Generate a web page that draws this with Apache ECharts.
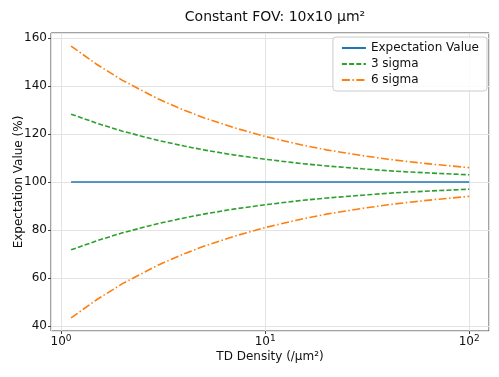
<!DOCTYPE html>
<html>
<head>
<meta charset="utf-8">
<script src="https://cdn.jsdelivr.net/npm/echarts@6/dist/echarts.min.js"></script>
<style>
  html, body { margin: 0; padding: 0; background: #fff; }
  #chart { width: 499px; height: 377px; }
</style>
</head>
<body>
<div id="chart"></div>
<script>
// TD density (/um^2)
const density = [1.12, 1.5, 2, 3, 4, 5, 7, 10, 15, 20, 30, 40, 50, 70, 100];

// Expectation value (%) for each curve
const expectation = [100, 100, 100, 100, 100, 100, 100, 100, 100, 100, 100, 100, 100, 100, 100];
const sigma3Upper = [128.3, 124.5, 121.2, 117.3, 115.0, 113.4, 111.3, 109.5, 107.7, 106.7, 105.5, 104.7, 104.2, 103.6, 103.0];
const sigma3Lower = [71.7, 75.5, 78.8, 82.7, 85.0, 86.6, 88.7, 90.5, 92.3, 93.3, 94.5, 95.3, 95.8, 96.4, 97.0];
const sigma6Upper = [156.7, 149.0, 142.4, 134.6, 130.0, 126.8, 122.7, 119.0, 115.5, 113.4, 111.0, 109.5, 108.5, 107.2, 106.0];
const sigma6Lower = [43.3, 51.0, 57.6, 65.4, 70.0, 73.2, 77.3, 81.0, 84.5, 86.6, 89.0, 90.5, 91.5, 92.8, 94.0];

const pairs = (ys) => density.map((x, i) => [x, ys[i]]);

const font = 'DejaVu Sans';
const ink = '#111';
const chart = echarts.init(document.getElementById('chart'));

const lineSeries = (name, data, color, type) => ({
  name: name,
  type: 'line',
  data: pairs(data),
  symbol: 'none',
  color: color,
  lineStyle: { color: color, width: 1.6, type: type },
  z: 3
});

chart.setOption({
  animation: false,
  textStyle: { fontFamily: font },
  title: {
    text: 'Constant FOV: 10x10 μm²',
    left: 270,
    textAlign: 'center',
    top: 5,
    textStyle: { fontFamily: font, fontSize: 14, fontWeight: 'normal', color: ink }
  },
  grid: {
    left: 51, right: 10, top: 33, bottom: 46,
    outerBoundsMode: 'none',
    containLabel: false,
    show: true, borderColor: '#444', borderWidth: 1
  },
  legend: {
    orient: 'vertical',
    right: 12, top: 37,
    padding: [5, 8, 5, 8],
    itemGap: 4,
    itemWidth: 24, itemHeight: 13,
    itemStyle: { opacity: 0 },
    borderColor: '#ccc', borderWidth: 1, borderRadius: 3,
    backgroundColor: 'rgba(255,255,255,0.85)',
    textStyle: { fontFamily: font, fontSize: 12, color: ink },
    data: ['Expectation Value', '3 sigma', '6 sigma']
  },
  xAxis: {
    type: 'log',
    logBase: 10,
    min: 0.893,
    max: 125,
    name: 'TD Density (/μm²)',
    nameLocation: 'middle',
    nameGap: 20,
    nameMoveOverlap: false,
    nameTextStyle: { fontFamily: font, fontSize: 12, color: ink },
    axisLine: { show: false },
    axisTick: { show: true, length: 3, lineStyle: { color: '#444' } },
    splitLine: { show: true, lineStyle: { color: '#e3e3e3', width: 1 } },
    axisLabel: {
      showMinLabel: false,
      showMaxLabel: false,
      margin: 3,
      color: ink,
      fontSize: 12,
      formatter: (v) => {
        const e = Math.log10(v);
        if (Math.abs(e - Math.round(e)) > 1e-6) return '';
        return '10{s|' + Math.round(e) + '}';
      },
      rich: { s: { fontSize: 9, padding: [0, 0, 7, 0], color: ink, fontFamily: font } }
    }
  },
  yAxis: {
    type: 'value',
    min: 37.85,
    max: 162.15,
    name: 'Expectation Value (%)',
    nameLocation: 'middle',
    nameGap: 26,
    nameMoveOverlap: false,
    nameTextStyle: { fontFamily: font, fontSize: 12, color: ink },
    axisLine: { show: false },
    axisTick: { show: true, length: 3, lineStyle: { color: '#444' } },
    splitLine: { show: true, lineStyle: { color: '#e3e3e3', width: 1 } },
    axisLabel: {
      showMinLabel: false,
      showMaxLabel: false,
      margin: 4,
      color: ink,
      fontSize: 12,
      formatter: (v) => (Math.abs(v % 20) < 1e-6 ? String(v) : '')
    }
  },
  series: [
    lineSeries('Expectation Value', expectation, '#1f77b4', 'solid'),
    lineSeries('3 sigma', sigma3Upper, '#2ca02c', [5, 2.2]),
    lineSeries('3 sigma', sigma3Lower, '#2ca02c', [5, 2.2]),
    lineSeries('6 sigma', sigma6Upper, '#ff7f0e', [8, 2.5, 1.5, 2.5]),
    lineSeries('6 sigma', sigma6Lower, '#ff7f0e', [8, 2.5, 1.5, 2.5])
  ]
});
</script>
</body>
</html>
